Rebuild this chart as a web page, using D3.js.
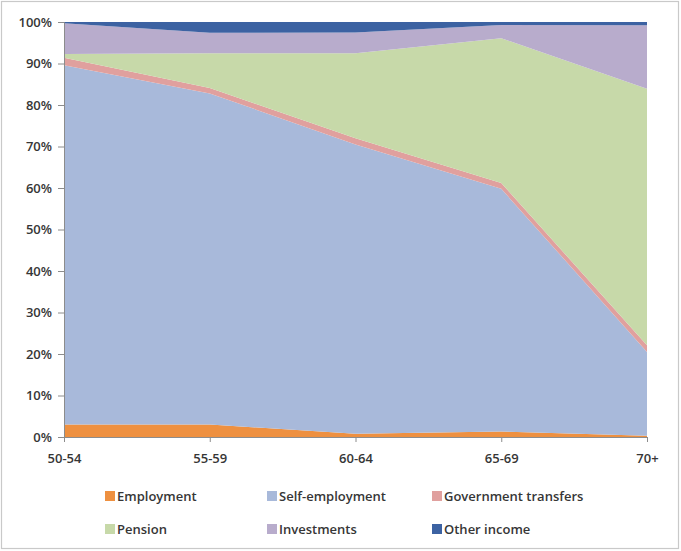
<!DOCTYPE html>
<html>
<head>
<meta charset="utf-8">
<script src="https://cdn.jsdelivr.net/npm/d3@7/dist/d3.min.js"></script>
<style>
  html, body { margin: 0; padding: 0; background: #fff; }
  svg { display: block; }
  text { font-family: "Open Sans", "DejaVu Sans", sans-serif; fill: #363636; }
</style>
</head>
<body>
<svg id="chart" width="681" height="551"></svg>
<script>
// Age groups along the x axis
const ageGroups = ["50-54", "55-59", "60-64", "65-69", "70+"];

// Share of income by source (percent), one value per age group
const employment      = [3.0, 3.0, 0.8, 1.3, 0.3];
const selfEmployment  = [86.6, 79.8, 69.7, 58.5, 20.2];
const govTransfers    = [1.8, 1.3, 1.5, 1.4, 1.6];
const pension         = [0.9, 8.4, 20.5, 34.9, 61.8];
const investments     = [7.4, 4.9, 5.0, 3.2, 15.3];
const otherIncome     = [0.3, 2.6, 2.5, 0.7, 0.8];

const seriesNames = ["Employment", "Self-employment", "Government transfers",
                     "Pension", "Investments", "Other income"];
const seriesValues = [employment, selfEmployment, govTransfers,
                      pension, investments, otherIncome];
const seriesColors = ["#ee9040", "#a8b9da", "#e0a09e", "#c7d9a9", "#b8accc", "#3c62a2"];

const yTickValues = [0, 10, 20, 30, 40, 50, 60, 70, 80, 90, 100];

// Rows for d3.stack: one object per age group
const rows = ageGroups.map((g, i) => {
  const r = { group: g };
  seriesNames.forEach((n, k) => { r[n] = seriesValues[k][i]; });
  return r;
});

const svg = d3.select("#chart");

// Outer frame
svg.append("rect")
  .attr("x", 1.5).attr("y", 1.5)
  .attr("width", 677).attr("height", 547)
  .attr("fill", "#fff")
  .attr("stroke", "#c9c9c9").attr("stroke-width", 1.2);

const x = d3.scalePoint().domain(ageGroups).range([64, 647]).padding(0);
const y = d3.scaleLinear().domain([0, 100]).range([437, 22]);

const stacked = d3.stack().keys(seriesNames)(rows);

const area = d3.area()
  .x(d => x(d.data.group))
  .y0(d => y(d[0]))
  .y1(d => y(d[1]));

svg.append("g").selectAll("path")
  .data(stacked)
  .join("path")
  .attr("d", area)
  .attr("fill", (d, i) => seriesColors[i]);

// Y axis
const yAxis = d3.axisLeft(y)
  .tickValues(yTickValues)
  .tickFormat(d => d + "%")
  .tickSize(6)
  .tickPadding(6);

const gy = svg.append("g").attr("transform", "translate(64,0)").call(yAxis);
gy.select(".domain").attr("stroke", "#8c8c8c");
gy.selectAll(".tick line").attr("stroke", "#8c8c8c");
gy.selectAll(".tick text")
  .style("font-size", "13px").style("font-weight", "600")
  .attr("fill", "#363636");

// X axis
const xAxis = d3.axisBottom(x).tickSize(5).tickPadding(12);
const gx = svg.append("g").attr("transform", "translate(0,437)").call(xAxis);
gx.select(".domain").attr("stroke", "#8c8c8c");
gx.selectAll(".tick line").attr("stroke", "#8c8c8c");
gx.selectAll(".tick text")
  .style("font-size", "13px").style("font-weight", "600")
  .attr("fill", "#363636");

// Legend: two rows of three
const legendCols = [105, 267, 432];
const legendRows = [496, 529];
const legend = svg.append("g");
seriesNames.forEach((n, i) => {
  const cx = legendCols[i % 3];
  const cy = legendRows[Math.floor(i / 3)];
  const item = legend.append("g").attr("transform", `translate(${cx},${cy})`);
  item.append("rect")
    .attr("x", 0).attr("y", -5)
    .attr("width", 10).attr("height", 10)
    .attr("fill", seriesColors[i]);
  item.append("text")
    .attr("x", 12).attr("y", 0)
    .attr("dominant-baseline", "central")
    .style("font-size", "13px").style("font-weight", "600")
    .text(n);
});
</script>
</body>
</html>
